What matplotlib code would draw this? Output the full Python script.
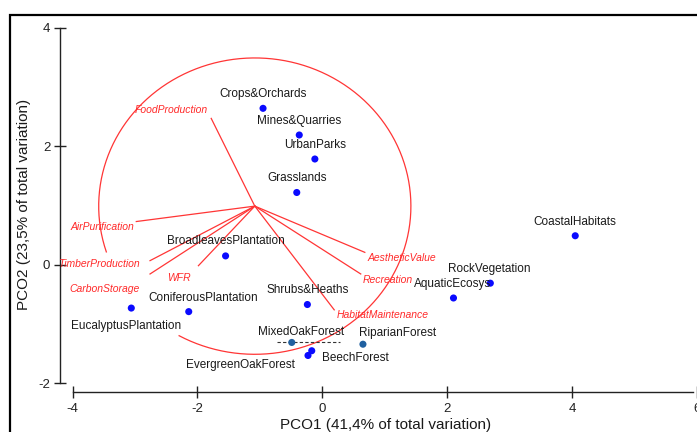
import numpy as np
import matplotlib
matplotlib.use("Agg")
import matplotlib.pyplot as plt
from matplotlib.patches import Rectangle

plt.rcParams['font.family'] = ['Liberation Sans', 'DejaVu Sans']

# ---- data -------------------------------------------------------------
sites = ["Crops&Orchards", "Mines&Quarries", "UrbanParks", "Grasslands",
         "BroadleavesPlantation", "CoastalHabitats", "RockVegetation",
         "AquaticEcosys", "Shrubs&Heaths", "ConiferousPlantation",
         "EucalyptusPlantation", "MixedOakForest", "RiparianForest",
         "BeechForest", "EvergreenOakForest"]
pco1 = [-0.95, -0.37, -0.12, -0.41, -1.55, 4.05, 2.69, 2.10, -0.24, -2.14,
        -3.06, -0.49, 0.65, -0.17, -0.23]
pco2 = [2.64, 2.19, 1.785, 1.22, 0.15, 0.49, -0.31, -0.56, -0.67, -0.79,
        -0.73, -1.31, -1.34, -1.45, -1.53]
dark_sites = ["MixedOakForest", "RiparianForest"]

services = ["FoodProduction", "AirPurification", "TimberProduction",
            "CarbonStorage", "WFR", "AestheticValue", "Recreation",
            "HabitatMaintenance"]
vec_x = [-1.78, -2.98, -2.76, -2.76, -1.985, 0.68, 0.615, 0.19]
vec_y = [2.47, 0.73, 0.07, -0.155, -0.015, 0.21, -0.155, -0.76]
vec_origin = (-1.082, 0.99)
circle_radius = 2.5

xticks = [-4, -2, 0, 2, 4, 6]
yticks = [-2, 0, 2, 4]
xlabel = "PCO1 (41,4% of total variation)"
ylabel = "PCO2 (23,5% of total variation)"

# ---- label layout (pixel offsets, ha) ----------------------------------
site_offsets = {
    "Crops&Orchards": (0, 14, 'center'),
    "Mines&Quarries": (0, 14, 'center'),
    "UrbanParks": (0, 14, 'center'),
    "Grasslands": (0, 14.5, 'center'),
    "BroadleavesPlantation": (0, 14.5, 'center'),
    "CoastalHabitats": (0, 14, 'center'),
    "RockVegetation": (-1, 14.5, 'center'),
    "AquaticEcosys": (-1, 14, 'center'),
    "Shrubs&Heaths": (0, 15, 'center'),
    "ConiferousPlantation": (14, 13.5, 'center'),
    "EucalyptusPlantation": (-5, -17.5, 'center'),
    "MixedOakForest": (9, 10.5, 'center'),
    "RiparianForest": (35, 11.5, 'center'),
    "BeechForest": (43.5, -7.5, 'center'),
    "EvergreenOakForest": (-68, -10, 'center'),
}
service_offsets = {
    "FoodProduction": (-3, 8, 'right'),
    "AirPurification": (-2, -5, 'right'),
    "TimberProduction": (-10.5, -3.5, 'right'),
    "CarbonStorage": (-10.5, -15.5, 'right'),
    "WFR": (-7.5, -12, 'right'),
    "AestheticValue": (2.5, -6, 'left'),
    "Recreation": (1.5, -6, 'left'),
    "HabitatMaintenance": (2, -5.5, 'left'),
}

# ---- figure -----------------------------------------------------------
W, H = 697, 432
fig = plt.figure(figsize=(W / 100, H / 100), dpi=100)
ax_left, ax_bottom, ax_right, ax_top = 60, 392, 697, 15
ax = fig.add_axes([ax_left / W, (H - ax_bottom) / H,
                   (ax_right - ax_left) / W, (ax_bottom - ax_top) / H])
px_per_x = 62.83
px_per_y = 59.27
x0_px, y0_px = 324.0, 264.8
ax.set_xlim((ax_left - x0_px) / px_per_x, (ax_right - x0_px) / px_per_x)
ax.set_ylim((y0_px - ax_bottom) / px_per_y, (y0_px - ax_top) / px_per_y)

for s in ['top', 'right']:
    ax.spines[s].set_visible(False)
ax.spines['left'].set_bounds(-2, 4)
ax.spines['bottom'].set_bounds(-4, ax.get_xlim()[1])
for s in ['left', 'bottom']:
    ax.spines[s].set_linewidth(1.0)
    ax.spines[s].set_color('#222222')
ax.set_xticks(xticks)
ax.set_yticks(yticks)
ax.set_xticklabels([str(t) for t in xticks])
ax.set_yticklabels([str(t) for t in yticks])
ax.tick_params(axis='both', direction='inout', length=8, width=1.0,
               colors='#222222', labelsize=9.5)
ax.tick_params(axis='x', pad=4)
ax.tick_params(axis='y', pad=3)
ax.set_xlim(ax.get_xlim())

# circle (drawn with a gap where the lower-left labels sit)
theta = np.deg2rad(np.linspace(241, 198 + 360, 400))
ax.plot(vec_origin[0] + circle_radius * np.cos(theta),
        vec_origin[1] + circle_radius * np.sin(theta),
        color='#ff3535', lw=0.9, zorder=2)

# vectors
for name, vx, vy in zip(services, vec_x, vec_y):
    ax.plot([vec_origin[0], vx], [vec_origin[1], vy], color='#ff3535',
            lw=0.9, zorder=2)
    dx, dy, ha = service_offsets[name]
    ax.annotate(name, (vx, vy), xytext=(dx, dy), textcoords='offset pixels',
                ha=ha, va='center', fontsize=7.5, style='italic',
                color='#ff2a2a', zorder=4)

# dashed artefact line through MixedOakForest
mo = sites.index("MixedOakForest")
ax.plot([pco1[mo] - 0.24, pco1[mo] + 0.77], [pco2[mo], pco2[mo]],
        color='#333333', lw=0.8, ls=(0, (3, 2)), zorder=3)

# sites
cols = ['#2060a0' if s in dark_sites else '#0a0aff' for s in sites]
ax.scatter(pco1, pco2, s=26, c=cols, edgecolors='none', zorder=5)
for name, x, y in zip(sites, pco1, pco2):
    dx, dy, ha = site_offsets[name]
    ax.annotate(name, (x, y), xytext=(dx, dy), textcoords='offset pixels',
                ha=ha, va='center', fontsize=8.5, color='#1a1a1a', zorder=6)

# axis titles
fig.text(386 / W, 1 - 425 / H, xlabel, ha='center', va='center',
         fontsize=11, color='#1a1a1a')
fig.text(24 / W, 1 - 204 / H, ylabel, ha='center', va='center',
         rotation=90, fontsize=11, color='#1a1a1a')

# outer frame
fig.add_artist(Rectangle((10 / W, -0.2), 1.5, (H - 15) / H + 0.2,
                         transform=fig.transFigure, fill=False,
                         lw=1.6, ec='black'))

fig.savefig("out.png", dpi=100)
